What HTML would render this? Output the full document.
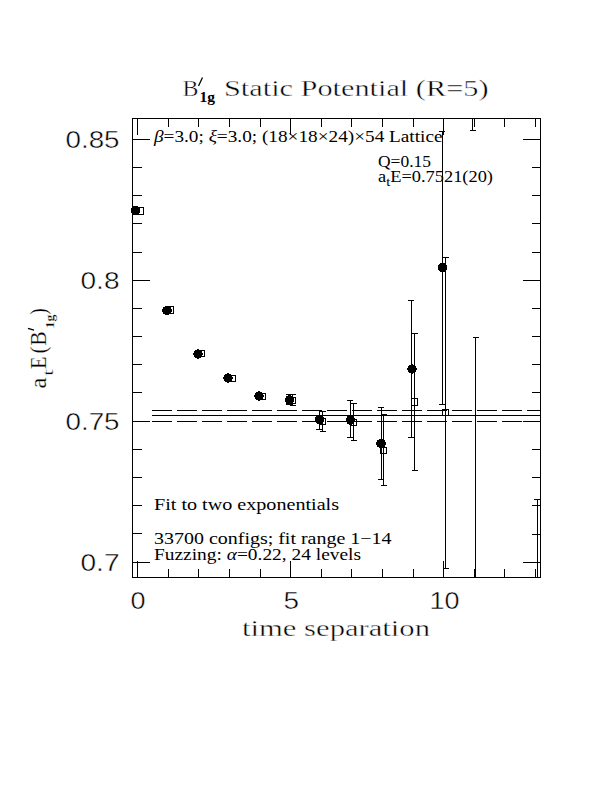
<!DOCTYPE html>
<html><head><meta charset="utf-8"><style>
html,body{margin:0;padding:0;background:#fff;width:612px;height:792px;overflow:hidden}
svg{display:block}
text{fill:#000}
.er text{stroke:#fff;stroke-width:0.4px}
.er2 text{stroke:#fff;stroke-width:0.2px}
.sr{font-family:"Liberation Serif",serif}
.ss{font-family:"Liberation Sans",sans-serif}
</style></head><body>
<svg width="612" height="792" viewBox="0 0 612 792">
<rect width="612" height="792" fill="#fff"/>
<g fill="none" stroke="#000" stroke-width="1" shape-rendering="crispEdges">
<path d="M132.5 118.5H540.5V577.5H132.5ZM132 562.5H150M523 562.5H541M132 533.5H142M532 534.5H541M132 505.5H142M532 505.5H541M132 477.5H142M532 477.5H541M132 449.5H142M532 449.5H541M132 421.5H150M523 421.5H541M132 392.5H142M532 392.5H541M132 364.5H142M532 364.5H541M132 336.5H142M532 336.5H541M132 308.5H142M532 308.5H541M132 280.5H150M523 280.5H541M132 252.5H142M532 252.5H541M132 223.5H142M532 223.5H541M132 195.5H142M532 195.5H541M132 167.5H142M532 167.5H541M132 139.5H150M523 139.5H541M137.5 118V135M137.5 561V578M168.5 118V127M168.5 569V578M198.5 118V127M198.5 569V578M229.5 118V127M229.5 569V578M260.5 118V127M260.5 569V578M290.5 118V135M290.5 561V578M321.5 118V127M321.5 569V578M351.5 118V127M351.5 569V578M382.5 118V127M382.5 569V578M413.5 118V127M413.5 569V578M443.5 118V135M443.5 561V578M474.5 118V127M474.5 569V578M504.5 118V127M504.5 569V578M535.5 118V127M535.5 569V578"/>
<path d="M152 415.5H541M152 410.5H172M177 410.5H197M202 410.5H222M227 410.5H247M252 410.5H272M277 410.5H297M302 410.5H322M327 410.5H347M352 410.5H372M377 410.5H397M402 410.5H422M427 410.5H447M452 410.5H472M477 410.5H497M502 410.5H522M527 410.5H541M152 421.5H172M177 421.5H197M202 421.5H222M227 421.5H247M252 421.5H272M277 421.5H297M302 421.5H322M327 421.5H347M352 421.5H372M377 421.5H397M402 421.5H422M427 421.5H447M452 421.5H472M477 421.5H497M502 421.5H522M527 421.5H541"/>
<path d="M289.5 394V405M286 394.5H292M286 404.5H292M319.5 410V430M316 410.5H322M316 429.5H322M350.5 400V438M347 400.5H353M347 437.5H353M381.5 407V480M378 407.5H384M378 479.5H384M411.5 300V438M408 300.5H414M408 437.5H414M442.5 131V405M439 131.5H445M439 404.5H445M292.5 394V406M290 394.5H296M290 405.5H296M322.5 411V432M320 411.5H326M320 431.5H326M353.5 403V441M351 403.5H357M351 440.5H357M383.5 414V486M381 414.5H387M381 485.5H387M414.5 333V471M412 333.5H418M412 470.5H418M445.5 257V569M443 257.5H449M443 568.5H449M472.5 118V131M470 130.5H476M475.5 337V578M473 337.5H479M537.5 499V578M534 499.5H541"/>
</g>
<path d="M202.5 77.5L198.5 86" stroke="#000" stroke-width="1.3" fill="none"/>
<g shape-rendering="crispEdges">
<rect x="137.5" y="207.5" width="6" height="7" fill="none" stroke="#000"/><rect x="167.5" y="306.5" width="6" height="7" fill="none" stroke="#000"/><rect x="198.5" y="350.5" width="6" height="6" fill="none" stroke="#000"/><rect x="229.5" y="375.5" width="6" height="6" fill="none" stroke="#000"/><rect x="259.5" y="393.5" width="6" height="6" fill="none" stroke="#000"/><rect x="289.5" y="397.5" width="6" height="6" fill="none" stroke="#000"/><rect x="319.5" y="418.5" width="6" height="6" fill="none" stroke="#000"/><rect x="350.5" y="419.5" width="6" height="6" fill="none" stroke="#000"/><rect x="380.5" y="447.5" width="6" height="6" fill="none" stroke="#000"/><rect x="411.5" y="398.5" width="6" height="7" fill="none" stroke="#000"/><rect x="442.5" y="409.5" width="6" height="6" fill="none" stroke="#000"/>
</g>
<g fill="#000" shape-rendering="crispEdges">
<circle cx="135.5" cy="210.5" r="4.75"/><circle cx="167" cy="310.5" r="4.75"/><circle cx="198" cy="354" r="4.75"/><circle cx="228" cy="378" r="4.75"/><circle cx="259" cy="396" r="4.75"/><circle cx="289.5" cy="400" r="4.75"/><circle cx="319.5" cy="419.5" r="4.75"/><circle cx="350.5" cy="420" r="4.75"/><circle cx="381" cy="443.5" r="4.75"/><circle cx="412" cy="369" r="4.75"/><circle cx="442.5" cy="267.5" r="4.75"/>
</g>
<g class="sr er">
<text x="182.5" y="95.5" font-size="23.5" textLength="16" lengthAdjust="spacingAndGlyphs">B</text>
<text x="199.5" y="101.5" font-size="14" font-weight="bold" style="stroke:none" textLength="15.5" lengthAdjust="spacingAndGlyphs">1g</text>
<text x="224" y="95.5" font-size="23.5" textLength="264.5" lengthAdjust="spacingAndGlyphs">Static Potential (R=5)</text>
</g>
<g class="ss er" font-size="23" text-anchor="end">
<text x="65.5" y="147.5" text-anchor="start" textLength="54" lengthAdjust="spacingAndGlyphs">0.85</text>
<text x="80.5" y="288.5" text-anchor="start" textLength="39" lengthAdjust="spacingAndGlyphs">0.8</text>
<text x="65.5" y="429.5" text-anchor="start" textLength="54" lengthAdjust="spacingAndGlyphs">0.75</text>
<text x="80.5" y="570.5" text-anchor="start" textLength="39" lengthAdjust="spacingAndGlyphs">0.7</text>
</g>
<g class="ss er" font-size="23">
<text x="130.5" y="608.5" textLength="15" lengthAdjust="spacingAndGlyphs">0</text>
<text x="283.5" y="608.5" textLength="15.5" lengthAdjust="spacingAndGlyphs">5</text>
<text x="429.5" y="608.5" textLength="30" lengthAdjust="spacingAndGlyphs">10</text>
</g>
<text class="sr" style="stroke:#fff;stroke-width:0.4px" x="242" y="636" font-size="24" textLength="188" lengthAdjust="spacingAndGlyphs">time separation</text>
<g class="sr er2" transform="translate(46 388) rotate(-90)">
<text x="-0.5" y="0" font-size="23" textLength="11" lengthAdjust="spacingAndGlyphs">a</text>
<text x="12" y="7" font-size="14" style="stroke:#fff;stroke-width:0.3px" textLength="7" lengthAdjust="spacingAndGlyphs">t</text>
<text x="19" y="0" font-size="23" textLength="12.5" lengthAdjust="spacingAndGlyphs">E</text>
<text x="34.5" y="0" font-size="23" textLength="7" lengthAdjust="spacingAndGlyphs">(</text>
<text x="42.5" y="0" font-size="23" textLength="14" lengthAdjust="spacingAndGlyphs">B</text>
<text x="59.5" y="7.5" font-size="13.5" font-weight="bold" style="stroke:#fff;stroke-width:0.3px" textLength="14" lengthAdjust="spacingAndGlyphs">1g</text>
<text x="73.5" y="0" font-size="23" textLength="6" lengthAdjust="spacingAndGlyphs">)</text>
</g>
<path d="M28 328.3L34 330.2" stroke="#000" stroke-width="1.4" fill="none"/>

<g class="sr" font-size="16">
<text x="154" y="141.6" textLength="288.5" lengthAdjust="spacingAndGlyphs"><tspan font-style="italic">β</tspan>=3.0; <tspan font-style="italic">ξ</tspan>=3.0; (18×18×24)×54 Lattice</text>
<text x="378" y="166.7" textLength="53" lengthAdjust="spacingAndGlyphs">Q=0.15</text>
<text x="378" y="182.4" textLength="115" lengthAdjust="spacingAndGlyphs">a<tspan font-size="12.5" dy="4">t</tspan><tspan dy="-4">E=0.7521(20)</tspan></text>
<text x="154" y="510" textLength="185" lengthAdjust="spacingAndGlyphs">Fit to two exponentials</text>
<text x="154" y="543.5" textLength="237.5" lengthAdjust="spacingAndGlyphs">33700 configs; fit range 1−14</text>
<text x="154" y="560.2" textLength="207" lengthAdjust="spacingAndGlyphs">Fuzzing: <tspan font-style="italic">α</tspan>=0.22, 24 levels</text>
</g>
</svg>
</body></html>
